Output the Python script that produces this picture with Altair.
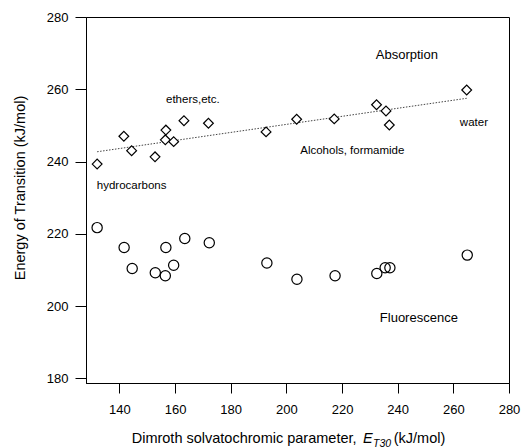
import altair as alt
import pandas as pd

# ---- data ----
abs_et30 = [132, 141.6, 144.4, 152.8, 156.7, 156.5, 159.5, 163.2, 172, 192.7, 203.7, 217.2, 232.4, 235.8, 237, 264.8]
abs_energy = [239.3, 247, 243, 241.3, 248.7, 246, 245.5, 251.3, 250.6, 248.2, 251.7, 251.8, 255.7, 254, 250.1, 259.8]
flu_et30 = [132, 141.7, 144.6, 152.9, 156.5, 156.7, 159.5, 163.5, 172.3, 193, 203.8, 217.5, 232.5, 235.5, 237.2, 265]
flu_energy = [221.7, 216.2, 210.4, 209.2, 208.4, 216.2, 211.3, 218.7, 217.5, 211.9, 207.4, 208.4, 209, 210.6, 210.6, 214.1]
fit_et30 = [132, 264.8]
fit_energy = [242.7, 257.5]
x_ticks = [140, 160, 180, 200, 220, 240, 260, 280]
y_ticks = [180, 200, 220, 240, 260, 280]
big_labels = ["Absorption", "Fluorescence"]
big_x = [243.3, 247.6]
big_y = [269.5, 196.8]
small_labels = ["ethers,etc.", "water", "Alcohols, formamide", "hydrocarbons"]
small_x = [166.4, 267.4, 223.7, 144.4]
small_y = [257, 250.6, 242.9, 233.3]

FONT = "Liberation Sans"
W, H = 423, 366

xs = alt.Scale(domain=[128, 280], nice=False, zero=False)
ys = alt.Scale(domain=[178.7, 280], nice=False, zero=False)
xax = alt.Axis(values=x_ticks, title="", grid=False, tickSize=10, labelPadding=10,
               labelFont=FONT, labelFontSize=13, labelColor="black",
               tickColor="black", domainColor="black", labelFlush=False)
yax = alt.Axis(values=y_ticks, title="Energy of Transition (kJ/mol)", grid=False,
               tickSize=11, labelPadding=7, labelFont=FONT, labelFontSize=13,
               labelColor="black", tickColor="black", domainColor="black",
               titleFont=FONT, titleFontSize=14.5, titleFontWeight="normal",
               titleColor="black", titleX=-66, titleY=170.5, titleAlign="center",
               titleBaseline="middle", titleAngle=270, labelFlush=False)

def enc(df_chart):
    return df_chart.encode(
        x=alt.X("x:Q", scale=xs, axis=xax),
        y=alt.Y("y:Q", scale=ys, axis=yax),
    )

abs_df = pd.DataFrame({"x": abs_et30, "y": abs_energy})
flu_df = pd.DataFrame({"x": flu_et30, "y": flu_energy})
fit_df = pd.DataFrame({"x": fit_et30, "y": fit_energy})
big_df = pd.DataFrame({"x": big_x, "y": big_y, "t": big_labels})
small_df = pd.DataFrame({"x": small_x, "y": small_y, "t": small_labels})

fit = enc(alt.Chart(fit_df).mark_line(strokeDash=[1.5, 1.5], strokeWidth=1, color="#444"))
diam = enc(alt.Chart(abs_df).mark_point(shape="diamond", filled=False, stroke="black",
                                         strokeWidth=1.2, size=95, opacity=1, fill="white"))
circ = enc(alt.Chart(flu_df).mark_point(shape="circle", filled=False, stroke="black",
                                         strokeWidth=1.2, size=105, opacity=1))
big = enc(alt.Chart(big_df).mark_text(font=FONT, fontSize=13, color="black")).encode(text="t:N")
small = enc(alt.Chart(small_df).mark_text(font=FONT, fontSize=11.5, color="black")).encode(text="t:N")

# composite x-axis title with italic subscripted E_T30 (left-aligned pieces)
t_df1 = pd.DataFrame({"t": ["Dimroth solvatochromic parameter,"]})
t_df2 = pd.DataFrame({"t": ["E"]})
t_df3 = pd.DataFrame({"t": ["T30"]})
t_df4 = pd.DataFrame({"t": ["(kJ/mol)"]})
base_y = 426
t1 = alt.Chart(t_df1).mark_text(font=FONT, fontSize=14.5, align="left", baseline="alphabetic",
                                color="black").encode(x=alt.value(45.7), y=alt.value(base_y), text="t:N")
t2 = alt.Chart(t_df2).mark_text(font=FONT, fontSize=14.5, fontStyle="italic", align="left",
                                baseline="alphabetic", color="black").encode(
    x=alt.value(277.0), y=alt.value(base_y), text="t:N")
t3 = alt.Chart(t_df3).mark_text(font=FONT, fontSize=10.5, fontStyle="italic", align="left",
                                baseline="alphabetic", color="black").encode(
    x=alt.value(287.0), y=alt.value(base_y + 3.5), text="t:N")
t4 = alt.Chart(t_df4).mark_text(font=FONT, fontSize=14.5, align="left", baseline="alphabetic",
                                color="black").encode(x=alt.value(307.7), y=alt.value(base_y), text="t:N")

chart = alt.layer(fit, diam, circ, big, small, t1, t2, t3, t4).properties(
    width=W, height=H,
    autosize=alt.AutoSizeParams(type="none"),
    padding={"left": 86, "top": 17, "right": 15, "bottom": 64},
    background="white",
).configure_view(stroke="black", strokeWidth=1).configure_axis(domainWidth=1, tickWidth=1)

chart.save("out.html", embed_options={"renderer": "svg", "actions": False})
